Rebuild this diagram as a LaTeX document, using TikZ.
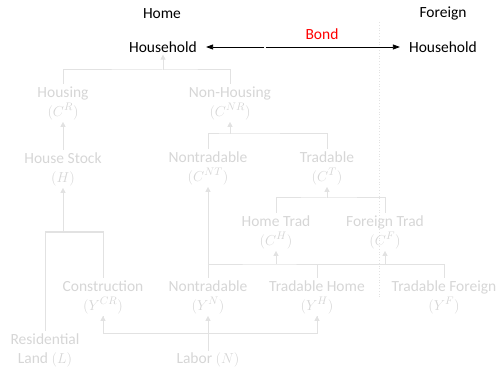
\documentclass[tikz,border=0pt]{standalone}
\usepackage{fontspec}
\setmainfont{Carlito}
\usetikzlibrary{arrows.meta}
\definecolor{softtext}{RGB}{214,214,214}
\definecolor{softline}{RGB}{226,226,226}
\definecolor{bondred}{RGB}{255,0,0}
\tikzset{
  lbl/.style={font=\fontsize{15.5}{19}\selectfont, align=center, inner sep=2pt},
  title/.style={lbl, text=black},
  soft/.style={lbl, text=softtext},
  link/.style={draw=softline, line width=1pt},
  uparrow/.style={link, -{Triangle[length=5pt,width=5pt]}},
  bondarrow/.style={draw=black, line width=0.8pt, shorten <=0.6pt, shorten >=7pt,
    -{Triangle[length=7pt,width=5pt]}},
  border/.style={draw=softline, line width=0.8pt, dotted},
}
\begin{document}
\begin{tikzpicture}[x=1pt,y=-1pt]
\useasboundingbox (0,0) rectangle (499,369);

% headings and the two households
\node[title] (home) at (162,14) {Home};
\node[title] (foreign) at (443,14) {Foreign};
\node[title] (hhh) at (163,47) {Household};
\node[title] (fhh) at (443,47) {Household};
\node[lbl, text=bondred] (bond) at (322,34) {Bond};

% country border
\coordinate (bordertop) at (379,22);
\coordinate (borderbot) at (379,297);
\draw[border] (bordertop) -- (borderbot);

% bond flows between the households
\coordinate (bondmid) at (265,47);
\draw[bondarrow] (bondmid) -- (hhh.east);
\draw[bondarrow] (bondmid) -- (fhh.west);

% consumption tree
\node[soft] (housing) at (63,103) {Housing\\$(C^{R})$};
\node[soft] (nonhousing) at (230,103) {Non-Housing\\$(C^{NR})$};
\node[soft] (hstock) at (63,169) {House Stock\\$(H)$};
\node[soft] (ntc) at (208,168) {Nontradable\\$(C^{NT})$};
\node[soft] (trc) at (327,168) {Tradable\\$(C^{T})$};
\node[soft] (homet) at (276,232) {Home Trad\\$(C^{H})$};
\node[soft] (foreignt) at (385,232) {Foreign Trad\\$(C^{F})$};

% production
\node[soft] (constr) at (103,297) {Construction\\$(Y^{CR})$};
\node[soft] (nty) at (208,297) {Nontradable\\$(Y^{N})$};
\node[soft] (thome) at (317,297) {Tradable Home\\$(Y^{H})$};
\node[soft] (tforeign) at (444,297) {Tradable Foreign\\$(Y^{F})$};
\node[soft] (land) at (45,350) {Residential\\Land $(L)$};
\node[soft] (labor) at (208,360) {Labor $(N)$};

% household aggregate
\coordinate (hhjoin) at (163,70);
\draw[link] (housing.north) |- (hhjoin) -| (nonhousing.north);
\draw[uparrow] (hhjoin) -- (hhh.south);

% housing branch
\draw[uparrow] (hstock.north) -- (housing.south);
\coordinate (hsjoin) at (63,232);
\draw[link] (land.north) |- (hsjoin) -| (constr.north);
\draw[uparrow] (hsjoin) -- (hstock.south);

% non-housing branch
\coordinate (nhjoin) at (230,134);
\draw[link] (ntc.north) |- (nhjoin) -| (trc.north);
\draw[uparrow] (nhjoin) -- (nonhousing.south);

\coordinate (trjoin) at (327,198);
\draw[link] (homet.north) |- (trjoin) -| (foreignt.north);
\draw[uparrow] (trjoin) -- (trc.south);

% goods sectors feeding consumption
\coordinate (gjoin) at (208,264);
\coordinate (hjoin) at (276,264);
\coordinate (fjoin) at (385,264);
\draw[link] (nty.north) |- (hjoin) -| (thome.north);
\draw[link] (thome.north |- hjoin) -| (tforeign.north);
\draw[uparrow] (gjoin) -- (ntc.south);
\draw[uparrow] (hjoin) -- (homet.south);
\draw[uparrow] (fjoin) -- (foreignt.south);

% labor supply
\coordinate (ljoin) at (208,333);
\draw[uparrow] (labor.north) -- (nty.south);
\draw[link] (ljoin) -| (constr.south);
\draw[link] (ljoin) -| (thome.south);
\draw[uparrow] (constr.south |- ljoin) -- (constr.south);
\draw[uparrow] (thome.south |- ljoin) -- (thome.south);
\end{tikzpicture}
\end{document}
